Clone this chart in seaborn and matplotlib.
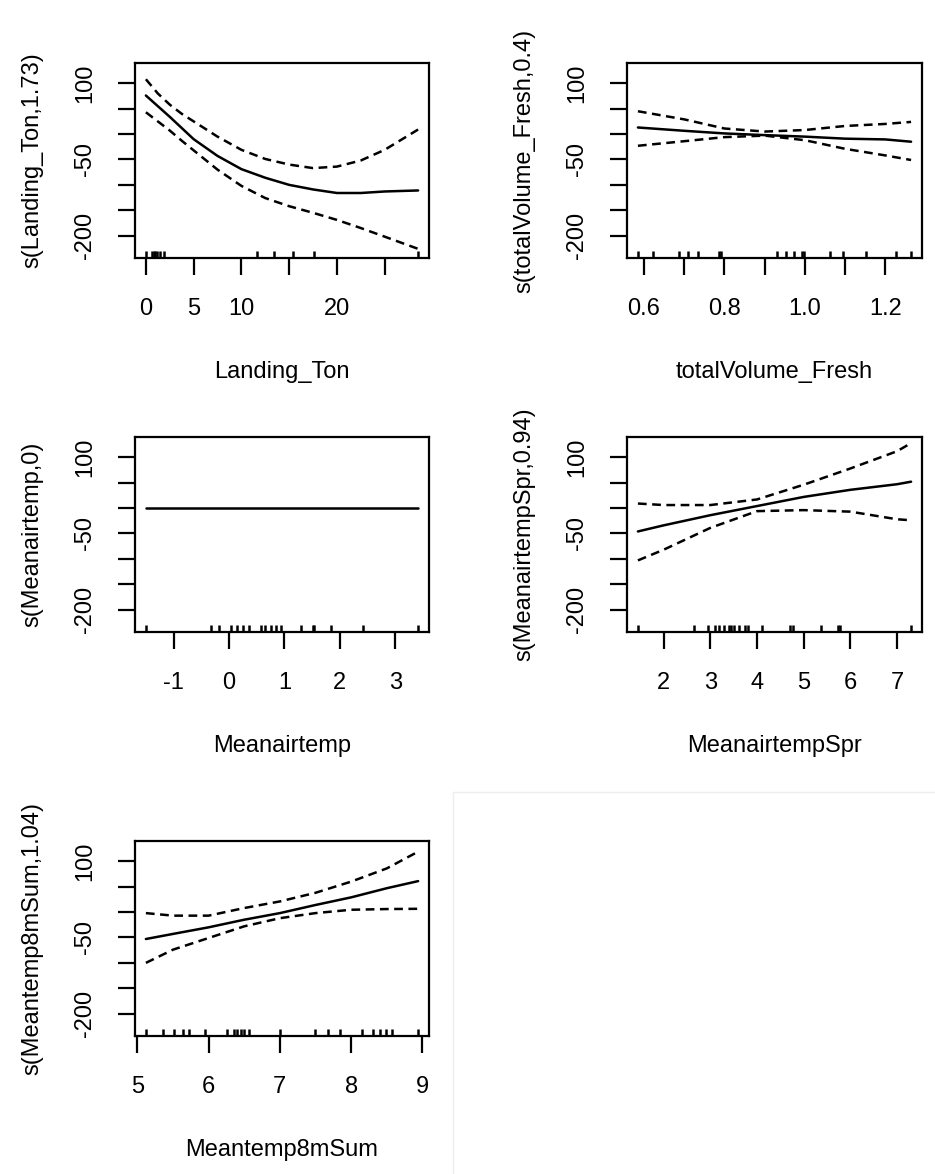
import matplotlib
matplotlib.use("Agg")
import matplotlib.pyplot as plt
from matplotlib.lines import Line2D
import seaborn as sns

# panel 1: Landing_Ton
landing_x = [0, 1.25, 2.5, 3.75, 5, 7.5, 10, 12.5, 15, 17.5, 20, 22.5, 25, 28.5]
landing_fit = [76, 55, 34, 12, -10, -43, -69, -86, -100, -109, -116, -116, -113, -111]
landing_up = [108, 80, 58, 40, 25, -5, -31, -49, -60, -67, -64, -52, -31, 9]
landing_lo = [43, 25, 7, -13, -32, -70, -102, -126, -142, -155, -169, -185, -202, -226]
landing_rug = [0, 0.66, 0.83, 1.0, 1.18, 1.46, 1.87, 11.6, 13.4, 15.4, 17.6, 28.5]

# panel 2: totalVolume_Fresh
fresh_x = [0.585, 0.7, 0.8, 0.9, 1.0, 1.1, 1.2, 1.264]
fresh_fit = [13, 6.5, 1.3, -2, -5, -9, -10.5, -15]
fresh_up = [45, 29, 11, 5, 8, 16, 20, 24]
fresh_lo = [-23, -14, -6, -3, -12, -29, -42, -51]
fresh_rug = [0.585, 0.622, 0.688, 0.709, 0.735, 0.787, 0.791, 0.931, 0.954,
             0.972, 0.993, 0.997, 1.063, 1.095, 1.153, 1.227, 1.264]

# panel 3: Meanairtemp (edf 0, flat)
air_x = [-1.5, 3.41]
air_fit = [0, 0]
air_rug = [-1.50, -0.32, -0.19, 0.03, 0.15, 0.26, 0.36, 0.57, 0.64, 0.75,
           0.85, 0.94, 1.30, 1.51, 1.54, 1.83, 2.41, 3.41]

# panel 4: MeanairtempSpr
spr_x = [1.45, 2, 3, 4, 5, 6, 7, 7.3]
spr_fit = [-46, -34, -14, 4, 22, 36, 47, 52]
spr_up = [9, 6, 6, 17, 46, 78, 112, 128]
spr_lo = [-103, -82, -39, -6, -4, -7, -22, -24]
spr_rug = [1.45, 2.65, 2.95, 3.09, 3.18, 3.29, 3.40, 3.45, 3.50, 3.61, 3.75,
           3.80, 4.11, 4.70, 4.78, 5.38, 5.74, 5.77, 7.30]

# panel 5: Meantemp8mSum
sum_x = [5.12, 5.5, 6, 6.5, 7, 7.5, 8, 8.5, 8.94]
sum_fit = [-53, -43, -30, -15, -2, 14, 29, 47, 61]
sum_up = [-2, -7, -7, 8, 21, 38, 60, 86, 119]
sum_lo = [-100, -74, -51, -28, -12, -2, 4.6, 6, 6.5]
sum_rug = [5.12, 5.36, 5.52, 5.64, 5.73, 5.95, 6.26, 6.35, 6.40, 6.45, 6.50,
           6.56, 7.0, 7.49, 7.67, 7.84, 8.15, 8.30, 8.40, 8.49, 8.57, 8.94]

y_ticks = [100, 50, 0, -50, -100, -150, -200]
y_labels = ["100", "", "", "-50", "", "", "-200"]

sns.set_theme(style="ticks")
plt.rcParams["font.family"] = ["Liberation Sans", "DejaVu Sans"]

W, H = 935, 1174
fig = plt.figure(figsize=(W / 100, H / 100), dpi=100)


def make_axes(x0, y0, x1, y1):
    return fig.add_axes([x0 / W, (H - y1) / H, (x1 - x0) / W, (y1 - y0) / H])


panels = [
    dict(box=(135, 63, 429, 258), x=landing_x, fit=landing_fit, up=landing_up, lo=landing_lo,
         rug=landing_rug, xt=[0, 5, 10, 15, 20, 25], xl=["0", "5", "10", "", "20", ""],
         xlab="Landing_Ton", ylab="s(Landing_Ton,1.73)"),
    dict(box=(627, 63, 922, 258), x=fresh_x, fit=fresh_fit, up=fresh_up, lo=fresh_lo,
         rug=fresh_rug, xt=[0.6, 0.7, 0.8, 0.9, 1.0, 1.1, 1.2],
         xl=["0.6", "", "0.8", "", "1.0", "", "1.2"],
         xlab="totalVolume_Fresh", ylab="s(totalVolume_Fresh,0.4)"),
    dict(box=(135, 437, 429, 632), x=air_x, fit=air_fit, up=None, lo=None,
         rug=air_rug, xt=[-1, 0, 1, 2, 3], xl=["-1", "0", "1", "2", "3"],
         xlab="Meanairtemp", ylab="s(Meanairtemp,0)"),
    dict(box=(627, 437, 922, 632), x=spr_x, fit=spr_fit, up=spr_up, lo=spr_lo,
         rug=spr_rug, xt=[2, 3, 4, 5, 6, 7], xl=["2", "3", "4", "5", "6", "7"],
         xlab="MeanairtempSpr", ylab="s(MeanairtempSpr,0.94)"),
    dict(box=(135, 841, 429, 1036), x=sum_x, fit=sum_fit, up=sum_up, lo=sum_lo,
         rug=sum_rug, xt=[5, 6, 7, 8, 9], xl=["5", "6", "7", "8", "9"],
         xlab="Meantemp8mSum", ylab="s(Meantemp8mSum,1.04)"),
]

fs = 17
lw = 1.8
for p in panels:
    ax = make_axes(*p["box"])
    sns.lineplot(x=p["x"], y=p["fit"], ax=ax, color="black", linewidth=lw)
    if p["up"] is not None:
        sns.lineplot(x=p["x"], y=p["up"], ax=ax, color="black", linewidth=lw,
                     linestyle=(0, (3.5, 2.2)))
        sns.lineplot(x=p["x"], y=p["lo"], ax=ax, color="black", linewidth=lw,
                     linestyle=(0, (3.5, 2.2)))
    sns.rugplot(x=p["rug"], ax=ax, height=0.036, color="black", linewidth=1.8,
                expand_margins=False)

    lo, hi = min(p["rug"]), max(p["rug"])
    pad = 0.04 * (hi - lo)
    ax.set_xlim(lo - pad, hi + pad)
    ax.set_ylim(-244, 140)

    ax.set_xticks(p["xt"])
    ax.set_xticklabels(p["xl"])
    ax.set_yticks(y_ticks)
    ax.set_yticklabels(y_labels, rotation=90, va="center")
    ax.tick_params(direction="out", length=12, width=1.6, color="black",
                   labelsize=fs, labelcolor="black")
    ax.tick_params(axis="x", pad=17)
    ax.tick_params(axis="y", pad=16)
    for s in ax.spines.values():
        s.set_visible(True)
        s.set_linewidth(1.6)
        s.set_color("black")
    ax.set_xlabel(p["xlab"], fontsize=fs, labelpad=29, color="black")
    ax.set_ylabel(p["ylab"], fontsize=fs, labelpad=22, color="black")
    ax.grid(False)

# faint frame of the empty sixth cell
fig.add_artist(Line2D([453 / W, 1], [1 - 792 / H, 1 - 792 / H], color="#eeeeee", linewidth=1))
fig.add_artist(Line2D([453 / W, 453 / W], [1 - 792 / H, 0], color="#eeeeee", linewidth=1))

fig.savefig("out.png", dpi=100, facecolor="white")
